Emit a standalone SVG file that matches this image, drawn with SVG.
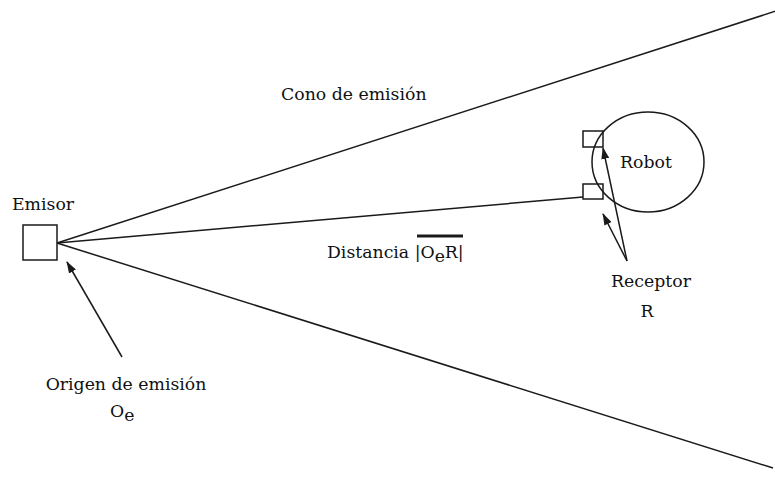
<svg xmlns="http://www.w3.org/2000/svg" width="775" height="481" viewBox="0 0 775 481">
<style>
.s{fill:none;stroke:#1a1a1a;stroke-width:1.5}
.b{fill:none;stroke:#1a1a1a;stroke-width:1.5}
text{font-family:"DejaVu Serif","Liberation Serif",serif;font-size:17.3px;fill:#111}
</style>
<defs>
<marker id="ah" viewBox="0 0 12 8" refX="11" refY="4" markerWidth="12" markerHeight="8" markerUnits="userSpaceOnUse" orient="auto">
<path d="M0,0 L12,4 L0,8 Z" fill="#1a1a1a"/>
</marker>
</defs>
<rect width="775" height="481" fill="#fff"/>
<g id="connectors">
<line class="s" x1="57" y1="243" x2="776" y2="11"/>
<line class="s" x1="57" y1="243" x2="773" y2="468"/>
<line class="s" x1="57" y1="243" x2="583" y2="197"/>
<line class="s" x1="122" y1="357" x2="67" y2="262" marker-end="url(#ah)"/>
<line class="s" x1="627" y1="261" x2="603" y2="148" marker-end="url(#ah)"/>
<line class="s" x1="627" y1="261" x2="603" y2="214" marker-end="url(#ah)"/>
</g>
<g id="emisor">
<rect class="b" x="23" y="225" width="34" height="35"/>
<text x="12" y="210">Emisor</text>
</g>
<g id="receptor-top">
<rect class="b" x="583" y="131" width="20" height="16"/>
</g>
<g id="receptor-bottom">
<rect class="b" x="583" y="184" width="20" height="15"/>
</g>
<g id="robot">
<ellipse class="s" cx="648" cy="162" rx="56" ry="50"/>
<text x="620" y="168">Robot</text>
</g>
<g id="cono-label">
<text x="281" y="100">Cono de emisión</text>
</g>
<g id="distancia-label">
<text x="327" y="258">Distancia |O<tspan dy="4">e</tspan><tspan dy="-4">R|</tspan></text>
<line x1="417" y1="236" x2="463" y2="236" stroke="#1a1a1a" stroke-width="3"/>
</g>
<g id="receptor-label">
<text x="651" y="287" text-anchor="middle">Receptor</text>
<text x="647" y="317" text-anchor="middle">R</text>
</g>
<g id="origen-label">
<text x="126" y="390" text-anchor="middle">Origen de emisión</text>
<text x="110" y="417">O<tspan dy="4">e</tspan></text>
</g>
</svg>
